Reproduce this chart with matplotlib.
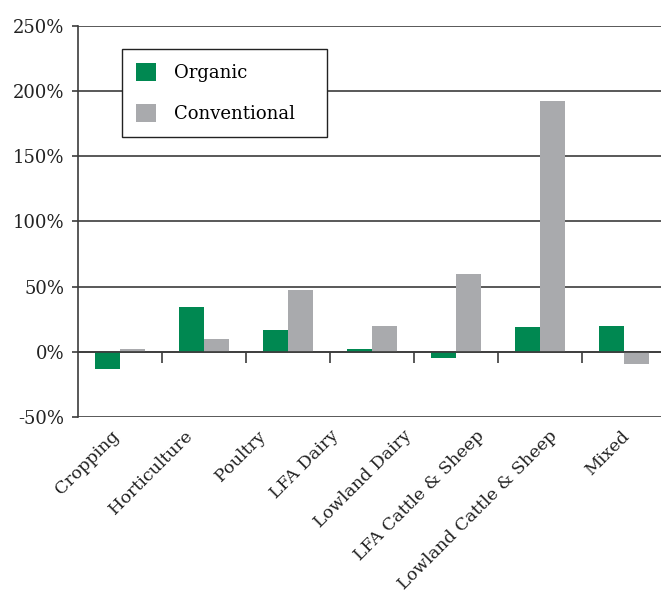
import numpy as np
import matplotlib
matplotlib.use("Agg")
import matplotlib.pyplot as plt

# Change in net farm income by farm type
categories = ["Cropping", "Horticulture", "Poultry", "LFA Dairy", "Lowland Dairy",
              "LFA Cattle & Sheep", "Lowland Cattle & Sheep", "Mixed"]
organic = [-13, 34, 17, 2, -5, 19, 20]
conventional = [2, 10, 47, 20, 60, 192, -9]
y_ticks = [-50, 0, 50, 100, 150, 200, 250]

GREEN = "#008851"
GREY = "#a9aaad"
LINE = "#3c3c3c"

plt.rcParams["font.family"] = "DejaVu Serif"
plt.rcParams["font.size"] = 13

fig = plt.figure(figsize=(6.61, 5.97), dpi=100)
ax = fig.add_axes([78 / 661, 1 - 417 / 597, 583 / 661, (417 - 25.7) / 597])

x = np.arange(len(organic))
w = 0.29
ax.bar(x - w / 2 - 0.005, organic, width=w, color=GREEN, label="Organic", zorder=3)
ax.bar(x + w / 2 + 0.005, conventional, width=w, color=GREY, label="Conventional", zorder=3)

ax.set_xlim(-0.5, -0.5 + 583 / 84)
ax.set_ylim(-50, 250)
ax.set_yticks(y_ticks)
ax.set_yticklabels([f"{v}%" for v in y_ticks])
ax.yaxis.grid(True, color=LINE, linewidth=1.2, zorder=1)
ax.tick_params(axis="y", length=4, width=1.2, color=LINE, pad=6, labelcolor="#222222")

# category axis runs along the zero line, with dividers between groups
for side in ["top", "right"]:
    ax.spines[side].set_visible(False)
ax.spines["bottom"].set_position(("data", 0))
ax.spines["bottom"].set_color(LINE)
ax.spines["bottom"].set_linewidth(1.2)
ax.spines["bottom"].set_zorder(4)
ax.spines["left"].set_color(LINE)
ax.spines["left"].set_linewidth(1.2)
ax.set_xticks(np.arange(len(organic) - 1) + 0.5)
ax.tick_params(axis="x", length=8, width=1.2, color=LINE, labelbottom=False)

for i, name in enumerate(categories):
    ax.annotate(name, xy=((i + 0.5) / len(categories), 0), xycoords="axes fraction",
                xytext=(-2.5, -7.5), textcoords="offset points", fontsize=12.6,
                rotation=45, ha="right", va="top", rotation_mode="anchor",
                color="#222222")

leg = ax.legend(loc="upper left", bbox_to_anchor=(0.0755, 0.705, 0.352, 0.235),
                mode="expand", borderaxespad=0,
                frameon=True, fancybox=False, framealpha=1, edgecolor="#222222",
                handlelength=1.15, handleheight=1.15, handletextpad=1.0,
                labelspacing=1.25, borderpad=0.75, fontsize=13)
leg.get_frame().set_linewidth(1.0)

fig.savefig("out.png", dpi=100)
